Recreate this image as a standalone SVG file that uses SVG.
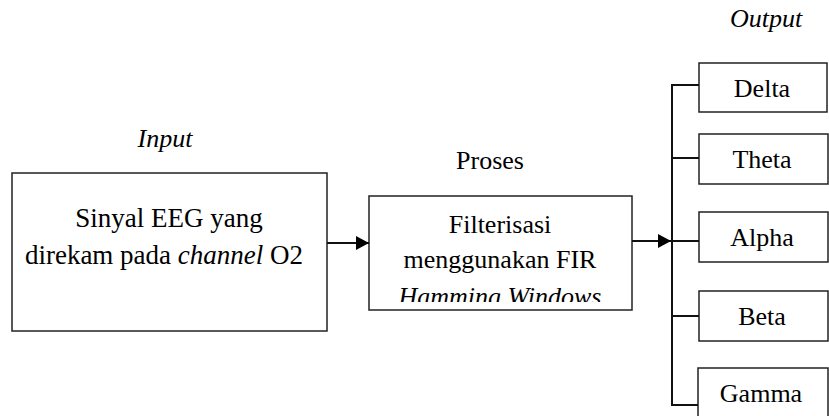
<svg xmlns="http://www.w3.org/2000/svg" width="829" height="416" viewBox="0 0 829 416">
  <style>
    .box { fill: #ffffff; stroke: #222222; stroke-width: 1.5; }
    .txt { font-family: "Liberation Serif", "Times New Roman", serif; font-size: 26px; fill: #000000; text-anchor: middle; }
    .it { font-style: italic; }
    .conn { fill: none; stroke: #111111; stroke-width: 2; }
  </style>
  <defs>
    <marker id="arrow" markerWidth="13" markerHeight="14" refX="13" refY="7" orient="auto" markerUnits="userSpaceOnUse">
      <path d="M0,0 L13,7 L0,14 Z" fill="#000000"/>
    </marker>
    <clipPath id="procClip">
      <rect x="369" y="196" width="264" height="106"/>
    </clipPath>
  </defs>

  <rect width="829" height="416" fill="#ffffff"/>

  <!-- section labels -->
  <text class="txt it" x="165" y="147">Input</text>
  <text class="txt" x="490" y="169">Proses</text>
  <text class="txt it" x="766" y="27">Output</text>

  <g id="input">
    <rect class="box" x="12" y="173" width="315" height="158"/>
    <text class="txt" x="169" y="227" style="font-size:27px">Sinyal EEG yang</text>
    <text class="txt" x="164" y="264" style="font-size:27px">direkam pada <tspan class="it">channel</tspan> O2</text>
  </g>

  <g id="proses">
    <rect class="box" x="369" y="196" width="263" height="114"/>
    <text class="txt" x="500" y="233">Filterisasi</text>
    <text class="txt" x="500" y="268">menggunakan FIR</text>
    <text class="txt it" x="500" y="305" clip-path="url(#procClip)">Hamming Windows</text>
  </g>

  <g id="delta">
    <rect class="box" x="699" y="63" width="128" height="49"/>
    <text class="txt" x="762" y="97">Delta</text>
  </g>
  <g id="theta">
    <rect class="box" x="699" y="134" width="129" height="50"/>
    <text class="txt" x="762" y="168">Theta</text>
  </g>
  <g id="alpha">
    <rect class="box" x="699" y="212" width="129" height="50"/>
    <text class="txt" x="762" y="246">Alpha</text>
  </g>
  <g id="beta">
    <rect class="box" x="699" y="291" width="129" height="50"/>
    <text class="txt" x="762" y="325">Beta</text>
  </g>
  <g id="gamma">
    <rect class="box" x="698" y="368" width="130" height="60"/>
    <text class="txt" x="761" y="402">Gamma</text>
  </g>

  <g id="connectors">
    <line class="conn" x1="327" y1="243" x2="369" y2="243" marker-end="url(#arrow)"/>
    <line class="conn" x1="632" y1="241" x2="671" y2="241" marker-end="url(#arrow)"/>
    <line class="conn" x1="672" y1="84" x2="672" y2="406"/>
    <line class="conn" x1="671" y1="85" x2="699" y2="85"/>
    <line class="conn" x1="671" y1="158" x2="699" y2="158"/>
    <line class="conn" x1="671" y1="241" x2="699" y2="241"/>
    <line class="conn" x1="671" y1="316" x2="699" y2="316"/>
    <line class="conn" x1="671" y1="405" x2="698" y2="405"/>
  </g>
</svg>
